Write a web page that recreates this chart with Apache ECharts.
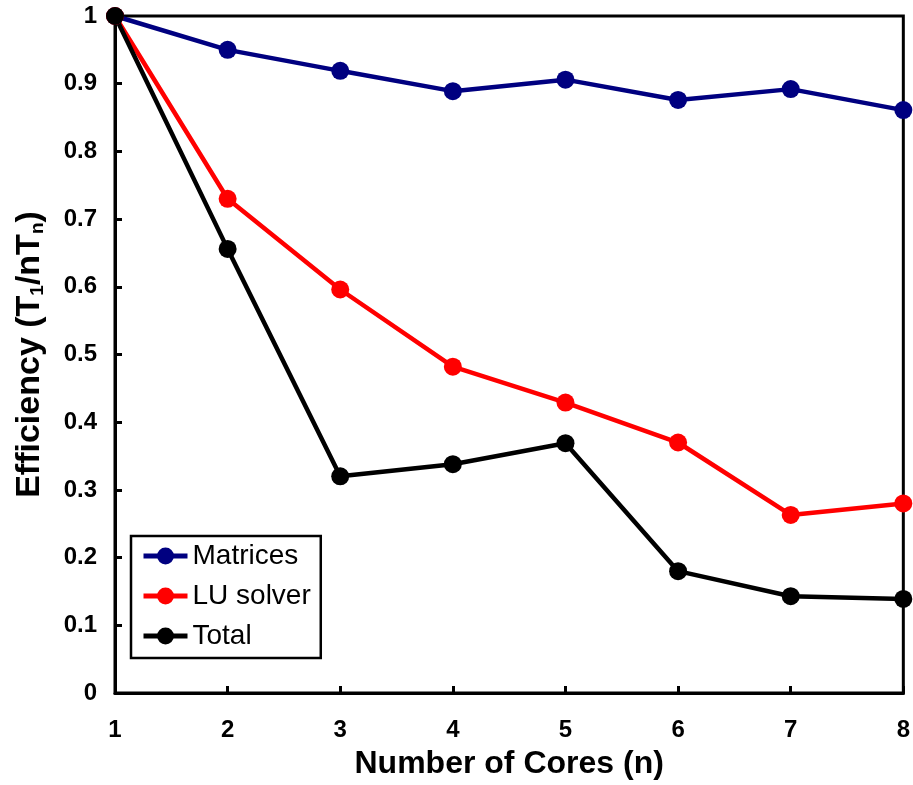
<!DOCTYPE html>
<html>
<head>
<meta charset="utf-8">
<script src="https://cdn.jsdelivr.net/npm/echarts@6/dist/echarts.min.js"></script>
<style>
html,body{margin:0;padding:0;background:#fff;}
#chart{width:913px;height:785px;}
</style>
</head>
<body>
<div id="chart"></div>
<script>
var cores = [1, 2, 3, 4, 5, 6, 7, 8];
var matrices = [1, 0.950, 0.919, 0.889, 0.906, 0.876, 0.892, 0.861];
var luSolver = [1, 0.730, 0.596, 0.482, 0.429, 0.370, 0.263, 0.280];
var total = [1, 0.656, 0.320, 0.338, 0.369, 0.180, 0.143, 0.139];

function pairs(vals) {
    return cores.map(function (c, i) { return [c, vals[i]]; });
}

var chart = echarts.init(document.getElementById('chart'));

function makeSeries(name, color, vals) {
    return {
        name: name,
        type: 'line',
        data: pairs(vals),
        symbol: 'circle',
        symbolSize: 18,
        clip: false,
        lineStyle: { color: color, width: 4.5 },
        itemStyle: { color: color }
    };
}

chart.setOption({
    animation: false,
    textStyle: { fontFamily: 'Liberation Sans, Arial, sans-serif' },
    grid: {
        left: 115,
        right: 9,
        top: 16,
        bottom: 91,
        show: true,
        borderColor: '#000',
        borderWidth: 3
    },
    legend: {
        orient: 'vertical',
        left: 131,
        top: 536,
        backgroundColor: '#fff',
        borderColor: '#000',
        borderWidth: 2.5,
        borderRadius: 0,
        padding: [6, 10, 8, 10],
        itemGap: 12,
        itemWidth: 44,
        itemHeight: 21,
        lineStyle: { width: 5 },
        textStyle: { fontSize: 28, color: '#000', fontFamily: 'Liberation Sans, Arial, sans-serif' },
        data: ['Matrices', 'LU solver', 'Total']
    },
    xAxis: {
        type: 'value',
        min: 1,
        max: 8,
        interval: 1,
        name: 'Number of Cores (n)',
        nameLocation: 'middle',
        nameGap: 55,
        nameTextStyle: { fontSize: 32, fontWeight: 'bold', color: '#000' },
        axisLine: { lineStyle: { color: '#000', width: 3 } },
        axisTick: { inside: true, length: 7, lineStyle: { color: '#000', width: 3 } },
        axisLabel: { fontSize: 24, fontWeight: 'bold', color: '#000', margin: 25 },
        splitLine: { show: false }
    },
    yAxis: {
        type: 'value',
        min: 0,
        max: 1,
        interval: 0.1,
        name: 'Efficiency (T{sub|1}/nT{sub|n})',
        nameLocation: 'middle',
        nameGap: 68,
        nameTextStyle: {
            fontSize: 34,
            fontWeight: 'bold',
            color: '#000',
            rich: {
                sub: { fontSize: 19, fontWeight: 'bold', color: '#000', verticalAlign: 'bottom', padding: [14, 0, 0, 0] }
            }
        },
        axisLine: { lineStyle: { color: '#000', width: 3 } },
        axisTick: { inside: true, length: 7, lineStyle: { color: '#000', width: 3 } },
        axisLabel: {
            fontSize: 24,
            fontWeight: 'bold',
            color: '#000',
            margin: 18,
            formatter: function (v) { return v === 0 || v === 1 ? String(v) : v.toFixed(1); }
        },
        splitLine: { show: false }
    },
    series: [
        makeSeries('Matrices', '#000080', matrices),
        makeSeries('LU solver', '#ff0000', luSolver),
        makeSeries('Total', '#000000', total)
    ]
});
</script>
</body>
</html>
